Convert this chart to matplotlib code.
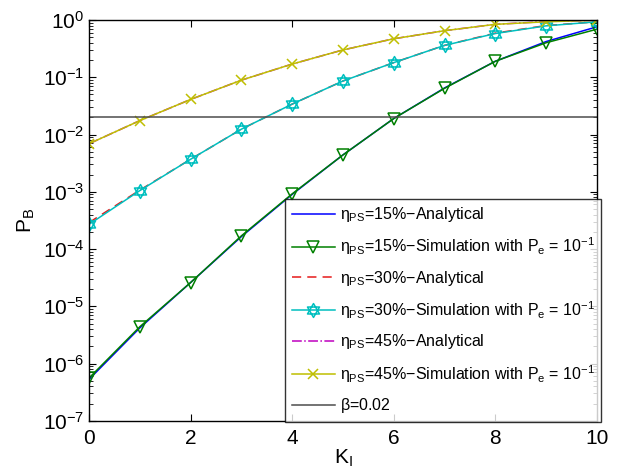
import matplotlib
matplotlib.use("Agg")
import matplotlib.pyplot as plt
import numpy as np
from matplotlib.path import Path
from matplotlib.ticker import LogLocator, NullFormatter

plt.rcParams['font.family'] = ['Liberation Sans', 'DejaVu Sans']
plt.rcParams['mathtext.fontset'] = 'custom'
plt.rcParams['mathtext.rm'] = 'Liberation Sans'
plt.rcParams['mathtext.it'] = 'Liberation Sans'
plt.rcParams['mathtext.sf'] = 'Liberation Sans'

K = [0, 1, 2, 3, 4, 5, 6, 7, 8, 9, 10]

# eta_PS = 15%
ana15 = [5.3e-7, 4.2e-6, 2.6e-5, 1.65e-4, 9.0e-4, 4.4e-3, 1.9e-2, 6.5e-2, 0.19, 0.42, 0.76]
sim15 = [5.6e-7, 4.4e-6, 2.6e-5, 1.7e-4, 9.2e-4, 4.4e-3, 1.9e-2, 6.4e-2, 0.19, 0.40, 0.69]
# eta_PS = 30%
ana30 = [2.9e-4, 1.07e-3, 3.7e-3, 1.24e-2, 3.4e-2, 8.6e-2, 0.18, 0.36, 0.59, 0.80, 0.93]
sim30 = [2.7e-4, 1.05e-3, 3.7e-3, 1.24e-2, 3.4e-2, 8.6e-2, 0.18, 0.36, 0.58, 0.79, 0.93]
# eta_PS = 45%
ana45 = [6.9e-3, 1.75e-2, 4.1e-2, 8.9e-2, 0.17, 0.30, 0.47, 0.65, 0.84, 0.94, 0.99]
sim45 = [6.9e-3, 1.75e-2, 4.1e-2, 8.9e-2, 0.17, 0.30, 0.47, 0.65, 0.84, 0.93, 0.99]
beta = 0.02

labels = [r'$\eta_{PS}$=15%$-$Analytical',
          r'$\eta_{PS}$=15%$-$Simulation with $P_e$ = $10^{-1}$',
          r'$\eta_{PS}$=30%$-$Analytical',
          r'$\eta_{PS}$=30%$-$Simulation with $P_e$ = $10^{-1}$',
          r'$\eta_{PS}$=45%$-$Analytical',
          r'$\eta_{PS}$=45%$-$Simulation with $P_e$ = $10^{-1}$',
          r'$\beta$=0.02']

# hexagram marker (two triangles)
t = np.deg2rad([90, 210, 330, 90])
t2 = np.deg2rad([270, 30, 150, 270])
codes = [Path.MOVETO, Path.LINETO, Path.LINETO, Path.CLOSEPOLY]
hexa = Path.make_compound_path(Path(np.c_[np.cos(t), np.sin(t)], codes),
                               Path(np.c_[np.cos(t2), np.sin(t2)], codes))

fig = plt.figure(figsize=(6.23, 4.76), dpi=100)
ax = fig.add_axes([0.143, 0.116, 0.815, 0.842])

ax.semilogy(K, ana15, color=(0, 0, 1), lw=1.1, label=labels[0])
ax.semilogy(K, sim15, color=(0, 0.5, 0), lw=1.1, marker='v', ms=9, mfc='none', mew=1.1, label=labels[1])
ax.semilogy(K, ana30, color=(0.9, 0.1, 0.1), lw=1.1, ls=(0, (6, 4)), label=labels[2])
ax.semilogy(K, sim30, color=(0, 0.75, 0.75), lw=1.1, marker=hexa, ms=10, mfc='none', mew=1.1, label=labels[3])
ax.semilogy(K, ana45, color=(0.75, 0, 0.75), lw=1.1, ls='-.', label=labels[4])
ax.semilogy(K, sim45, color=(0.75, 0.75, 0), lw=1.1, marker='x', ms=7, mew=1.1, label=labels[5])
ax.axhline(beta, color=(0.3, 0.3, 0.3), lw=1.1, label=labels[6])

ax.set_xlim(0, 10)
ax.set_ylim(1e-7, 1)
ax.set_xticks([0, 2, 4, 6, 8, 10])
ax.yaxis.set_major_locator(LogLocator(base=10, numticks=10))
ax.yaxis.set_minor_locator(LogLocator(base=10, subs=np.arange(2, 10), numticks=20))
ax.yaxis.set_minor_formatter(NullFormatter())
ax.tick_params(which='both', direction='in', top=True, right=True, labelsize=15)
ax.tick_params(which='major', length=5)
ax.tick_params(which='minor', length=3)
ax.tick_params(axis='x', pad=6)
for s in ax.spines.values():
    s.set_linewidth(1.0)

ax.set_xlabel(r'K$_\mathregular{I}$', fontsize=15, labelpad=0)
ax.set_ylabel(r'P$_\mathregular{B}$', fontsize=15, labelpad=4)

leg = ax.legend(loc='lower right', bbox_to_anchor=(1.008, -0.002), fontsize=11.5,
                frameon=True, fancybox=False, numpoints=1,
                edgecolor='black', borderaxespad=0, handlelength=2.7,
                labelspacing=0.72, borderpad=0.4, handletextpad=0.3)
leg.get_frame().set_linewidth(1.0)

fig.savefig('out.png', dpi=100)
